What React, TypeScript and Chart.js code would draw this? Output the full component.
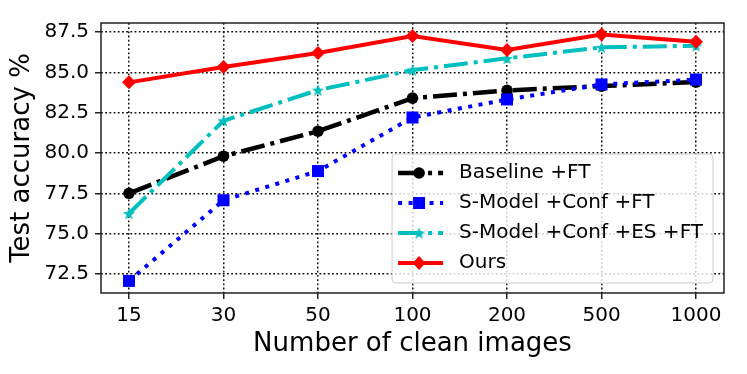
import React, { useEffect, useRef } from 'react';
import { Chart, registerables } from 'chart.js';

Chart.register(...registerables);

const categories = ['15', '30', '50', '100', '200', '500', '1000'];
const baselineFT = [77.5, 79.8, 81.35, 83.4, 83.88, 84.15, 84.4];
const sModelConfFT = [72.07, 77.07, 78.88, 82.2, 83.32, 84.25, 84.55];
const sModelConfESFT = [76.25, 82.0, 83.9, 85.14, 85.87, 86.55, 86.65];
const ours = [84.38, 85.33, 86.2, 87.25, 86.38, 87.35, 86.9];
const yTicks = [72.5, 75.0, 77.5, 80.0, 82.5, 85.0, 87.5];
const seriesNames = ['Baseline +FT', 'S-Model +Conf +FT', 'S-Model +Conf +ES +FT', 'Ours'];

const FONT = '"DejaVu Sans", "Liberation Sans", sans-serif';
const CYAN = '#00bfbf';

function makeStar(color: string, outer: number): HTMLCanvasElement {
  const c = document.createElement('canvas');
  const s = Math.ceil(outer * 2 + 2);
  c.width = s;
  c.height = s;
  const g = c.getContext('2d')!;
  const cx = s / 2;
  const cy = s / 2 + outer * 0.1;
  const inner = outer * 0.4;
  g.beginPath();
  for (let i = 0; i < 10; i++) {
    const r = i % 2 === 0 ? outer : inner;
    const ang = -Math.PI / 2 + (i * Math.PI) / 5;
    const x = cx + r * Math.cos(ang);
    const y = cy + r * Math.sin(ang);
    if (i === 0) g.moveTo(x, y);
    else g.lineTo(x, y);
  }
  g.closePath();
  g.fillStyle = color;
  g.fill();
  return c;
}

function toPoints(arr: number[]) {
  return arr.map((v, i) => ({ x: i, y: v }));
}

export default function App() {
  const ref = useRef<HTMLCanvasElement | null>(null);

  useEffect(() => {
    document.body.style.margin = '0';
    const star = makeStar(CYAN, 6.5);

    const markers = ['circle', 'square', 'star', 'diamond'];

    const frameLegend = {
      id: 'frameLegend',
      afterDatasetsDraw(chart: any) {
        const { ctx, chartArea: a } = chart;
        ctx.save();
        ctx.setLineDash([]);
        ctx.strokeStyle = '#222';
        ctx.lineWidth = 1.5;
        ctx.strokeRect(a.left, a.top, a.right - a.left, a.bottom - a.top);

        // legend
        ctx.font = `20px ${FONT}`;
        let maxW = 0;
        chart.data.datasets.forEach((d: any) => {
          maxW = Math.max(maxW, ctx.measureText(d.label).width);
        });
        const rowH = 30;
        const n = chart.data.datasets.length;
        const boxW = 67 + maxW + 10;
        const boxH = 9 + n * rowH + 0;
        const bx = a.right - 11 - boxW;
        const by = a.bottom - 10 - boxH;
        const r = 4;
        ctx.beginPath();
        ctx.moveTo(bx + r, by);
        ctx.lineTo(bx + boxW - r, by);
        ctx.quadraticCurveTo(bx + boxW, by, bx + boxW, by + r);
        ctx.lineTo(bx + boxW, by + boxH - r);
        ctx.quadraticCurveTo(bx + boxW, by + boxH, bx + boxW - r, by + boxH);
        ctx.lineTo(bx + r, by + boxH);
        ctx.quadraticCurveTo(bx, by + boxH, bx, by + boxH - r);
        ctx.lineTo(bx, by + r);
        ctx.quadraticCurveTo(bx, by, bx + r, by);
        ctx.closePath();
        ctx.fillStyle = 'rgba(255,255,255,0.8)';
        ctx.fill();
        ctx.strokeStyle = '#cccccc';
        ctx.lineWidth = 1;
        ctx.stroke();

        chart.data.datasets.forEach((d: any, i: number) => {
          const cy = by + 19 + i * rowH;
          const x0 = bx + 6;
          const x1 = bx + 51;
          const mx = bx + 27;
          ctx.save();
          ctx.strokeStyle = d.borderColor;
          ctx.lineWidth = d.borderWidth;
          ctx.setLineDash(d.borderDash || []);
          ctx.lineCap = 'butt';
          ctx.beginPath();
          ctx.moveTo(x0, cy);
          ctx.lineTo(x1, cy);
          ctx.stroke();
          ctx.setLineDash([]);
          ctx.fillStyle = d.borderColor;
          const m = markers[i];
          ctx.beginPath();
          if (m === 'circle') {
            ctx.arc(mx, cy, 5.8, 0, Math.PI * 2);
            ctx.fill();
          } else if (m === 'square') {
            ctx.rect(mx - 6, cy - 6, 12, 12);
            ctx.fill();
          } else if (m === 'diamond') {
            ctx.moveTo(mx, cy - 7);
            ctx.lineTo(mx + 6.5, cy);
            ctx.lineTo(mx, cy + 7);
            ctx.lineTo(mx - 6.5, cy);
            ctx.closePath();
            ctx.fill();
          } else {
            ctx.drawImage(star, mx - star.width / 2, cy - star.height / 2);
          }
          ctx.restore();
          ctx.fillStyle = '#000';
          ctx.textAlign = 'left';
          ctx.textBaseline = 'middle';
          ctx.fillText(d.label, bx + 67, cy);
        });
        ctx.restore();
      },
    };

    const gridCommon = {
      color: '#111',
      lineWidth: 1.5,
      drawTicks: true,
      tickLength: 6,
      tickColor: '#222',
      tickWidth: 1.5,
      tickBorderDash: [],
    };
    const borderCommon = { display: false, dash: [1.8, 2.4] };

    const chart = new Chart(ref.current!, {
      type: 'line',
      data: {
        datasets: [
          {
            label: seriesNames[0],
            data: toPoints(baselineFT),
            borderColor: '#000000',
            backgroundColor: '#000000',
            borderWidth: 4.5,
            borderDash: [24, 6, 4, 6],
            pointStyle: 'circle',
            pointRadius: 5.8,
            pointBorderWidth: 0,
            order: 3,
          },
          {
            label: seriesNames[1],
            data: toPoints(sModelConfFT),
            borderColor: '#0000ff',
            backgroundColor: '#0000ff',
            borderWidth: 4,
            borderDash: [4, 6.5],
            pointStyle: 'rect',
            pointRadius: 8.5,
            pointBorderWidth: 0,
            order: 2,
          },
          {
            label: seriesNames[2],
            data: toPoints(sModelConfESFT),
            borderColor: CYAN,
            backgroundColor: CYAN,
            borderWidth: 4,
            borderDash: [24, 6, 4, 6],
            pointStyle: star as any,
            pointRadius: 6,
            pointBorderWidth: 0,
            order: 1,
          },
          {
            label: seriesNames[3],
            data: toPoints(ours),
            borderColor: '#ff0000',
            backgroundColor: '#ff0000',
            borderWidth: 4,
            pointStyle: 'rectRot',
            pointRadius: 7,
            pointBorderWidth: 0,
            order: 0,
          },
        ],
      },
      options: {
        animation: false,
        responsive: true,
        maintainAspectRatio: false,
        devicePixelRatio: 1,
        layout: { padding: { top: 23, right: 23, left: 0, bottom: 0 } },
        elements: { line: { tension: 0, fill: false } },
        plugins: {
          legend: { display: false },
          tooltip: { enabled: false },
        },
        scales: {
          x: {
            type: 'linear',
            min: -0.296,
            max: 6.296,
            afterFit: (s: any) => {
              s.height = 81;
            },
            afterBuildTicks: (s: any) => {
              s.ticks = categories.map((_, i) => ({ value: i }));
            },
            ticks: {
              callback: (v: any) => categories[Math.round(Number(v))] ?? '',
              color: '#000',
              font: { family: FONT, size: 20 },
              padding: 5,
              maxRotation: 0,
              autoSkip: false,
            },
            grid: gridCommon as any,
            border: borderCommon as any,
            title: {
              display: true,
              text: 'Number of clean images',
              color: '#000',
              font: { family: FONT, size: 26 },
              padding: { top: 0, bottom: 14 },
            },
          },
          y: {
            type: 'linear',
            min: 71.32,
            max: 88.06,
            afterFit: (s: any) => {
              s.width = 101;
            },
            afterBuildTicks: (s: any) => {
              s.ticks = yTicks.map((v) => ({ value: v }));
            },
            ticks: {
              callback: (v: any) => Number(v).toFixed(1),
              color: '#000',
              font: { family: FONT, size: 20 },
              padding: 6,
              autoSkip: false,
            },
            grid: gridCommon as any,
            border: borderCommon as any,
            title: {
              display: true,
              text: 'Test accuracy %',
              color: '#000',
              font: { family: FONT, size: 26 },
              padding: { top: 7, bottom: 0 },
            },
          },
        },
      },
      plugins: [frameLegend],
    });

    return () => chart.destroy();
  }, []);

  return (
    <div style={{ position: 'relative', width: 747, height: 374 }}>
      <canvas ref={ref} />
    </div>
  );
}
